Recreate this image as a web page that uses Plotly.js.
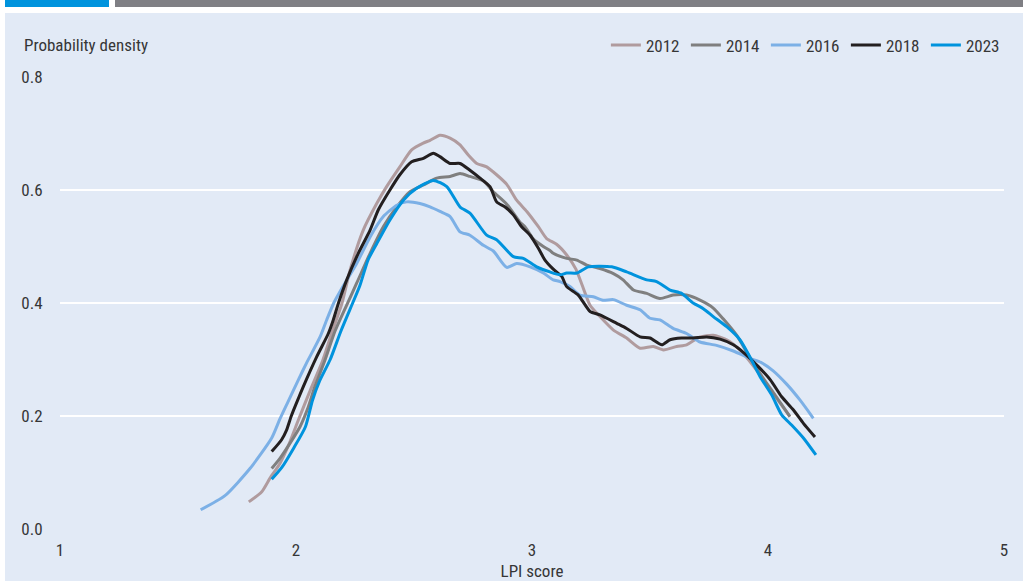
<!DOCTYPE html>
<html>
<head>
<meta charset="utf-8">
<script src="https://cdn.plot.ly/plotly-3.0.1.min.js"></script>
<style>
  html, body { margin: 0; padding: 0; background: #ffffff; }
  #wrap { position: relative; width: 1023px; height: 581px; overflow: hidden; }
  #barBlue { position: absolute; left: 5px; top: 0; width: 104px; height: 7px; background: #0093dd; }
  #barGray { position: absolute; left: 115px; top: 0; width: 908px; height: 7px; background: #7f7f84; }
  #panel { position: absolute; left: 5px; top: 13px; width: 1018px; height: 568px; background: #e2eaf6; }
  #chart { position: absolute; left: 0; top: 0; width: 1023px; height: 581px; }
</style>
</head>
<body>
<div id="wrap">
  <div id="barBlue"></div>
  <div id="barGray"></div>
  <div id="panel"></div>
  <div id="chart"></div>
</div>
<script>
// ---- data ----
const years = ["2012", "2014", "2016", "2018", "2023"];

const x2012 = [1.80,1.855,1.89,1.932,1.97,2.01,2.06,2.114,2.15,2.195,2.229,2.285,2.342,2.384,2.44,2.49,2.539,2.568,2.61,2.653,2.695,2.73,2.766,2.808,2.85,2.893,2.935,2.978,3.027,3.062,3.104,3.147,3.186,3.214,3.246,3.288,3.345,3.401,3.458,3.514,3.557,3.613,3.655,3.712,3.768,3.825,3.881,3.93,3.98,4.03,4.093];
const y2012 = [0.048,0.066,0.090,0.116,0.150,0.193,0.245,0.299,0.345,0.400,0.458,0.529,0.576,0.606,0.641,0.671,0.683,0.688,0.697,0.692,0.680,0.662,0.647,0.641,0.627,0.610,0.582,0.562,0.535,0.514,0.504,0.485,0.460,0.430,0.396,0.376,0.352,0.338,0.320,0.323,0.317,0.323,0.326,0.340,0.343,0.335,0.317,0.293,0.265,0.235,0.199];

const x2014 = [1.897,1.932,1.975,2.017,2.052,2.08,2.123,2.165,2.21,2.257,2.314,2.37,2.427,2.483,2.54,2.596,2.653,2.695,2.737,2.794,2.836,2.893,2.949,2.97,3.006,3.048,3.076,3.09,3.147,3.19,3.232,3.288,3.345,3.386,3.43,3.486,3.542,3.598,3.655,3.712,3.768,3.81,3.867,3.917,3.97,4.03,4.093];
const y2014 = [0.107,0.125,0.152,0.181,0.216,0.252,0.299,0.350,0.392,0.435,0.488,0.535,0.570,0.597,0.609,0.621,0.624,0.629,0.624,0.616,0.597,0.575,0.543,0.535,0.513,0.500,0.493,0.488,0.479,0.476,0.467,0.461,0.452,0.441,0.423,0.417,0.408,0.414,0.414,0.405,0.391,0.372,0.343,0.308,0.273,0.237,0.199];

const x2016 = [1.596,1.699,1.805,1.897,1.932,1.967,2.01,2.045,2.102,2.13,2.16,2.20,2.257,2.314,2.37,2.427,2.469,2.525,2.568,2.61,2.653,2.695,2.737,2.794,2.836,2.893,2.935,2.992,3.048,3.09,3.119,3.161,3.203,3.26,3.30,3.345,3.401,3.458,3.50,3.542,3.598,3.655,3.712,3.782,3.853,3.924,3.97,4.022,4.08,4.136,4.192];
const y2016 = [0.034,0.059,0.107,0.161,0.195,0.226,0.264,0.294,0.340,0.370,0.400,0.430,0.470,0.517,0.553,0.573,0.579,0.576,0.570,0.562,0.553,0.526,0.520,0.502,0.492,0.463,0.470,0.464,0.453,0.441,0.438,0.429,0.414,0.411,0.405,0.406,0.396,0.388,0.373,0.370,0.355,0.346,0.331,0.325,0.315,0.302,0.295,0.280,0.256,0.228,0.196];

const x2018 = [1.897,1.939,1.96,1.98,2.01,2.031,2.088,2.137,2.158,2.18,2.215,2.264,2.314,2.349,2.398,2.44,2.49,2.54,2.582,2.61,2.653,2.695,2.737,2.78,2.822,2.85,2.886,2.921,2.956,2.992,3.027,3.055,3.09,3.126,3.147,3.196,3.246,3.288,3.359,3.401,3.458,3.50,3.55,3.585,3.634,3.683,3.74,3.797,3.853,3.90,3.96,4.01,4.058,4.107,4.15,4.199];
const y2018 = [0.137,0.158,0.175,0.200,0.231,0.252,0.305,0.346,0.370,0.400,0.441,0.488,0.529,0.565,0.600,0.627,0.650,0.656,0.665,0.659,0.647,0.647,0.635,0.621,0.606,0.579,0.570,0.556,0.535,0.520,0.497,0.476,0.460,0.447,0.429,0.414,0.385,0.379,0.364,0.355,0.340,0.338,0.326,0.335,0.338,0.338,0.340,0.336,0.326,0.311,0.287,0.264,0.234,0.211,0.187,0.163];

const x2023 = [1.897,1.94,1.99,2.04,2.07,2.10,2.145,2.19,2.23,2.27,2.305,2.342,2.398,2.455,2.511,2.582,2.639,2.695,2.737,2.808,2.85,2.921,2.963,3.02,3.076,3.119,3.147,3.19,3.239,3.338,3.401,3.486,3.528,3.585,3.634,3.683,3.726,3.768,3.825,3.881,3.924,3.966,4.016,4.058,4.10,4.15,4.203];
const y2023 = [0.088,0.109,0.143,0.181,0.228,0.262,0.300,0.350,0.390,0.430,0.476,0.505,0.547,0.582,0.603,0.617,0.606,0.570,0.559,0.520,0.512,0.482,0.479,0.464,0.455,0.450,0.453,0.453,0.464,0.464,0.455,0.441,0.438,0.423,0.417,0.400,0.390,0.376,0.358,0.335,0.304,0.270,0.237,0.202,0.184,0.161,0.131];

const xTickVals = [1, 2, 3, 4, 5];
const yTickVals = [0, 0.2, 0.4, 0.6, 0.8];
const yTickText = ["0.0", "0.2", "0.4", "0.6", "0.8"];

const colors = ["#b09b9e", "#7f7f7f", "#7cb0e6", "#231f20", "#0093dd"];
const xs = [x2012, x2014, x2016, x2018, x2023];
const ys = [y2012, y2014, y2016, y2018, y2023];

const FONT = '"Liberation Sans Narrow", "Roboto Condensed", "DejaVu Sans Condensed", "Arial Narrow", sans-serif';
const FS = 17;
const TXT = "#363636";

const traces = years.map((yr, i) => ({
  type: "scatter",
  mode: "lines",
  name: yr,
  x: xs[i],
  y: ys[i],
  line: { color: colors[i], width: 3, shape: "spline", smoothing: 0.6 },
  hoverinfo: "skip"
}));

const layout = {
  width: 1023,
  height: 581,
  margin: { l: 60, r: 19, t: 77, b: 52 },
  paper_bgcolor: "rgba(0,0,0,0)",
  plot_bgcolor: "rgba(0,0,0,0)",
  font: { family: FONT, size: FS, color: TXT },
  showlegend: true,
  legend: {
    orientation: "h",
    x: 1.002, xanchor: "right",
    y: 1.07, yanchor: "middle",
    bgcolor: "rgba(0,0,0,0)",
    entrywidth: 35, entrywidthmode: "pixels",
    font: { family: FONT, size: FS, color: TXT },
    traceorder: "normal"
  },
  xaxis: {
    range: [1, 5],
    tickvals: xTickVals,
    ticktext: xTickVals.map(String),
    showgrid: false,
    zeroline: false,
    showline: false,
    ticks: "outside", ticklen: 6, tickcolor: "rgba(0,0,0,0)",
    tickfont: { family: FONT, size: FS, color: TXT },
    title: { text: "LPI score", font: { family: FONT, size: FS, color: TXT }, standoff: 5 }
  },
  yaxis: {
    range: [0, 0.8],
    tickvals: yTickVals,
    ticktext: yTickText,
    showgrid: true, gridcolor: "#ffffff", gridwidth: 1.5,
    zeroline: false,
    showline: false,
    ticks: "outside", ticklen: 13, tickcolor: "rgba(0,0,0,0)",
    tickfont: { family: FONT, size: FS, color: TXT }
  },
  annotations: [{
    text: "Probability density",
    xref: "paper", yref: "paper",
    x: -0.0403, y: 1.0708,
    xanchor: "left", yanchor: "middle",
    showarrow: false,
    font: { family: FONT, size: FS, color: TXT }
  }]
};

Plotly.newPlot("chart", traces, layout, { displayModeBar: false, responsive: false });
</script>
</body>
</html>
